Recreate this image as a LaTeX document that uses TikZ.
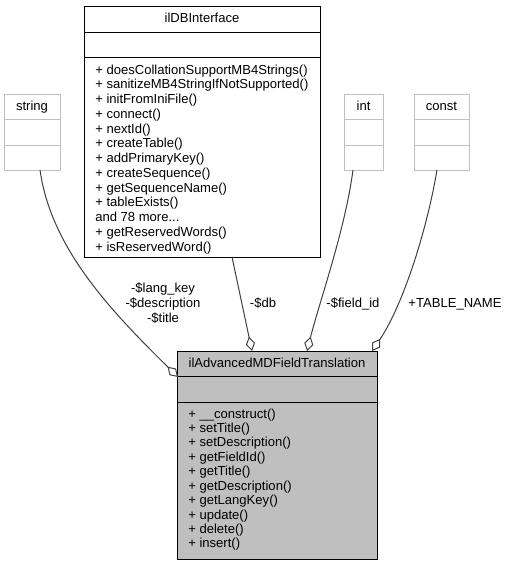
\documentclass[tikz,border=0pt]{standalone}
\usepackage{fontspec}
\setmainfont{Liberation Sans}
\usetikzlibrary{arrows.meta}
\definecolor{gboxc}{HTML}{BFBFBF}
\definecolor{edgec}{HTML}{404040}
\newcommand{\dbmoretxt}{and 78 more...}
\begin{document}
\begin{tikzpicture}[x=0.75pt,y=-0.75pt,
  txt/.style={font=\fontsize{9.8}{11}\selectfont, inner sep=0pt, anchor=base},
  mtxt/.style={txt, anchor=base west},
  gbox/.style={draw=gboxc, line width=0.75pt, anchor=north west, inner sep=0pt, fill=white},
  bbox/.style={draw=black, line width=0.75pt, anchor=north west, inner sep=0pt},
  gsep/.style={draw=gboxc, line width=0.75pt},
  bsep/.style={draw=black, line width=0.75pt},
  assoc/.style={draw=edgec, line width=0.75pt, -{Diamond[open,length=11pt,width=7pt]}}]
\useasboundingbox (0,0) rectangle (510,565);
% string
\node[gbox, minimum width=42pt, minimum height=57pt] (string) at (4,94) {};
\draw[gsep] (4,119) -- (60,119) (4,145) -- (60,145);
\node[txt] (stringt) at (32,110) {string};
% int
\node[gbox, minimum width=29.25pt, minimum height=57pt] (int) at (344,94) {};
\draw[gsep] (344,119) -- (383,119) (344,145) -- (383,145);
\node[txt] (intt) at (363.5,110) {int};
% const
\node[gbox, minimum width=41.25pt, minimum height=57pt] (const) at (414,94) {};
\draw[gsep] (414,119) -- (469,119) (414,145) -- (469,145);
\node[txt] (constt) at (441.5,110) {const};
% ilDBInterface
\node[bbox, fill=white, minimum width=177pt, minimum height=188.25pt] (db) at (84,6) {};
\draw[bsep] (84,32) -- (320,32) (84,57) -- (320,57);
\node[txt] (dbt) at (202,22.5) {ilDBInterface};
\foreach \t [count=\i from 0] in {{+ doesCollationSupportMB4Strings()},{+ sanitizeMB4StringIfNotSupported()},{+ initFromIniFile()},{+ connect()},{+ nextId()},{+ createTable()},{+ addPrimaryKey()},{+ createSequence()},{+ getSequenceName()},{+ tableExists()},{\dbmoretxt},{+ getReservedWords()},{+ isReservedWord()}}
  \node[mtxt] (dbm\i) at ({95},{74+\i*14.75}) {\t};
% main class
\node[bbox, fill=gboxc, minimum width=150pt, minimum height=156pt] (main) at (177,351) {};
\draw[bsep] (177,376) -- (377,376) (177,402) -- (377,402);
\node[txt] (maint) at (277,367.5) {ilAdvancedMDFieldTranslation};
\foreach \t [count=\i from 0] in {{+ \_\_construct()},{+ setTitle()},{+ setDescription()},{+ getFieldId()},{+ getTitle()},{+ getDescription()},{+ getLangKey()},{+ update()},{+ delete()},{+ insert()}}
  \node[mtxt] (mm\i) at ({188},{418+\i*14.44}) {\t};
% connector endpoints
\coordinate (sS) at (40,170);
\coordinate (mW) at (178,377);
\coordinate (dbS) at (232,257);
\coordinate (mN1) at (252,351);
\coordinate (intS) at (353,170);
\coordinate (mN2) at (307,351);
\coordinate (constS) at (437,170);
\coordinate (mN3) at (372,351);
\draw[assoc] (sS) .. controls (51,248) and (110,310) .. (mW);
\draw[assoc] (dbS) -- (mN1);
\draw[assoc] (intS) .. controls (345,230) and (320,300) .. (mN2);
\draw[assoc] (constS) .. controls (425,240) and (400,310) .. (mN3);
% labels
\node[txt] (l1) at (163,292) {-\$lang\_key};
\node[txt] (l2) at (163,307) {-\$description};
\node[txt] (l3) at (163,322) {-\$title};
\node[txt] (l4) at (263,307) {-\$db};
\node[txt] (l5) at (353,307) {-\$field\_id};
\node[txt] (l6) at (455,307) {+TABLE\_NAME};
\end{tikzpicture}
\end{document}
